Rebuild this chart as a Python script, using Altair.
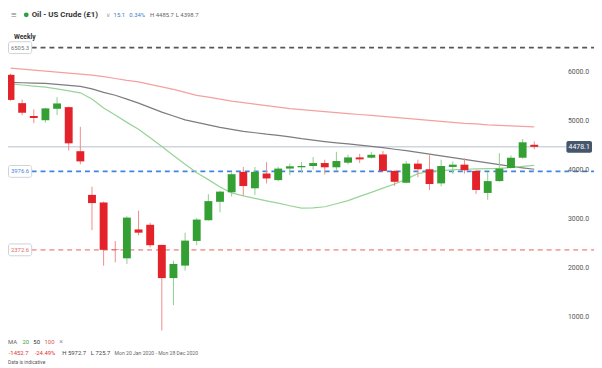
import altair as alt
import numpy as np
import pandas as pd

# ---------------- data ----------------
OPEN = [5950, 5371, 5109, 5022, 5256, 5290, 4389, 3496, 3341, 2380, 2200, 2790, 2885, 2474,
        1796, 2051, 2555, 2978, 3355, 3550, 3966, 3631, 3933, 3798, 4034, 4060, 4087, 4147,
        4060, 4154, 4262, 4256, 4323, 3986, 3744, 4135, 4020, 3731, 4067, 4114, 3986, 3536,
        3778, 4047, 4256, 4520]
HIGH = [5972.7, 5445, 5244, 5276, 5492, 5300, 4887, 3663, 3360, 2555, 3059, 3173, 2925, 2480,
        2151, 2723, 3026, 3510, 3583, 3953, 4067, 4067, 4167, 4070, 4135, 4167, 4268, 4215,
        4376, 4316, 4336, 4376, 4396, 3995, 4188, 4215, 4309, 4215, 4175, 4242, 3995, 3966,
        4349, 4302, 4639, 4591]
LOW = [5420, 5123, 4962, 4974, 5129, 4403, 4121, 2776, 2050, 2119, 2085, 2670, 2421, 725.7,
       1244, 1950, 2468, 2970, 3139, 3462, 3476, 3496, 3731, 3780, 3899, 3953, 4013, 3913,
       3986, 4121, 4147, 4240, 3980, 3677, 3731, 3859, 3597, 3671, 3926, 3933, 3516, 3395,
       3764, 4034, 4235, 4430]
CLOSE = [5437, 5175, 5068, 5264, 5365, 4550, 4181, 3329, 2373, 2372, 3032, 2724, 2468, 1796,
         2085, 2562, 2992, 3369, 3563, 3919, 3677, 3966, 3832, 4034, 4081, 4087, 4147, 4060,
         4188, 4262, 4222, 4316, 3986, 3764, 4135, 4020, 3718, 4087, 4114, 4000, 3597, 3778,
         4034, 4256, 4571, 4478.1]

MA20 = [5764, 5742, 5720, 5697, 5663, 5623, 5583, 5458, 5270, 5129, 4978, 4837, 4665, 4484,
        4302, 4121, 3950, 3808, 3657, 3536, 3476, 3425, 3375, 3329, 3274, 3224, 3230, 3254,
        3315, 3379, 3466, 3546, 3633, 3718, 3819, 3929, 3974, 3990, 4008, 4020, 4028, 4034,
        4040, 4056, 4081, 4101]
MA50 = [5794, 5788, 5782, 5774, 5754, 5734, 5714, 5663, 5593, 5532, 5452, 5371, 5280, 5189,
        5109, 5028, 4978, 4927, 4877, 4837, 4796, 4766, 4736, 4712, 4681, 4645, 4615, 4585,
        4560, 4538, 4512, 4488, 4460, 4429, 4399, 4367, 4329, 4292, 4258, 4222, 4185, 4149,
        4113, 4081, 4050, 4020]
MA100 = [6087, 6066, 6046, 6026, 6006, 5986, 5966, 5945, 5915, 5875, 5835, 5804, 5754, 5704,
         5653, 5593, 5532, 5492, 5452, 5411, 5381, 5351, 5320, 5290, 5260, 5240, 5220, 5200,
         5179, 5159, 5139, 5119, 5099, 5079, 5058, 5038, 5018, 4998, 4978, 4958, 4948, 4927,
         4917, 4907, 4897, 4887]

LEVELS = [6505.3, 3976.6, 2372.6]
LAST_PRICE = [4478.1]
Y_TICKS = [1000, 2000, 3000, 4000, 5000, 6000]

TITLE = "Oil - US Crude (£1)"
HEADER_VALUES = ["15.1", "0.34%", "H 4485.7", "L 4398.7"]
PERIOD = "Weekly"
MA_LABELS = ["MA", "20", "50", "100", "×"]
SUMMARY = ["-1452.7", "-24.49%", "H 5972.7", "L 725.7", "Mon 20 Jan 2020 - Mon 28 Dec 2020"]
NOTE = "Data is indicative"

# ---------------- tables ----------------
n = len(OPEN)
candles = pd.DataFrame({"i": np.arange(n), "open": OPEN, "high": HIGH, "low": LOW, "close": CLOSE})
ma = pd.concat([
    pd.DataFrame({"i": np.arange(n), "v": MA100, "ma": "MA100"}),
    pd.DataFrame({"i": np.arange(n), "v": MA50, "ma": "MA50"}),
    pd.DataFrame({"i": np.arange(n), "v": MA20, "ma": "MA20"}),
])
last = pd.DataFrame({"v": LAST_PRICE})
ticks = pd.DataFrame({"v": Y_TICKS})
one = pd.DataFrame({"a": [0]})

W, H = 594, 360
FONT = "Roboto"
GREEN = "#34a034"
RED = "#e3222a"

xs = alt.Scale(domain=[0.2083, 49.7083], nice=False, zero=False)
ys = alt.Scale(domain=[8, 7266], nice=False, zero=False)
X = alt.X("i:Q", scale=xs, axis=None)


def Y(field):
    return alt.Y(f"{field}:Q", scale=ys, axis=None, title=None)


up = alt.datum.close >= alt.datum.open

LEVEL_LINE_COLORS = ["#55575c", "#3f86dc", "#f4a3a3"]
LEVEL_TEXT_COLORS = ["#777777", "#3f86dc", "#e06a6a"]

level_lines, level_marks = [], []
for k, lv in enumerate(LEVELS):
    d = pd.DataFrame({"v": [lv]})
    level_lines.append(alt.Chart(d).mark_rule(strokeDash=[5, 4], strokeWidth=1.6,
                                              stroke=LEVEL_LINE_COLORS[k]).encode(
        y=Y("v"), x=alt.value(24), x2=alt.value(W)))
    level_marks.append(alt.Chart(d).mark_rect(yOffset=-6, y2Offset=6, cornerRadius=2, fill="white",
                                              stroke="#cdd2d8", strokeWidth=1).encode(
        y=Y("v"), y2=alt.Y2("v:Q"), x=alt.value(0.5), x2=alt.value(24)))
    level_marks.append(alt.Chart(d).mark_text(font=FONT, fontSize=6, align="center", baseline="middle",
                                              fill=LEVEL_TEXT_COLORS[k]).encode(
        y=Y("v"), x=alt.value(12.2), text=alt.Text("v:Q", format=".1f")))

price_line = alt.Chart(last).mark_rule(color="#cfd6e0", strokeWidth=1.5).encode(
    y=Y("v"), x=alt.value(0), x2=alt.value(566),
)
ma_lines = alt.Chart(ma).mark_line(strokeWidth=1.25).encode(
    x=X, y=Y("v"), detail="ma:N",
    color=alt.Color("ma:N", scale=alt.Scale(domain=["MA20", "MA50", "MA100"],
                                            range=["#98d498", "#7d7d80", "#f5a0a0"]), legend=None),
)
wicks = alt.Chart(candles).mark_rule(strokeWidth=1).encode(
    x=X, y=Y("low"), y2=alt.Y2("high:Q"),
    color=alt.condition(up, alt.value("#8fcc8f"), alt.value("#f08a8a")),
)
bodies = alt.Chart(candles).mark_bar(size=8, minBandSize=1).encode(
    x=X, y=Y("open"), y2=alt.Y2("close:Q"),
    color=alt.condition(up, alt.value(GREEN), alt.value(RED)),
)
badge = alt.Chart(last).mark_rect(yOffset=-6, y2Offset=6, cornerRadius=2, fill="#46566d").encode(
    y=Y("v"), y2=alt.Y2("v:Q"), x=alt.value(566), x2=alt.value(592),
)
badge_text = alt.Chart(last).mark_text(font=FONT, fontSize=7, color="white", align="center",
                                       baseline="middle").encode(
    y=Y("v"), x=alt.value(579), text=alt.Text("v:Q", format=".1f"),
)
tick_text = alt.Chart(ticks).mark_text(font=FONT, fontSize=7, color="#555555", align="right",
                                       baseline="middle").encode(
    y=Y("v"), x=alt.value(589), text=alt.Text("v:Q", format=".1f"),
)


def label(text, x, y, color="#333333", size=7.0, weight="normal", align="left"):
    return alt.Chart(one).mark_text(font=FONT, fontSize=size, color=color, fontWeight=weight,
                                    align=align, baseline="middle").encode(
        x=alt.value(x), y=alt.value(y), text=alt.value(text))


dot = alt.Chart(one).mark_point(filled=True, size=24, color="#2ea043", opacity=1).encode(
    x=alt.value(18.5), y=alt.value(4.5))

annotations = [
    label("≡", 3, 4.5, "#777777", 10),
    dot,
    label(TITLE, 24, 4.5, "#333333", 8, "bold"),
    label("∨", 99, 4.5, "#999999", 6),
    label(HEADER_VALUES[0], 107, 4.5, "#3b7fc4", 6),
    label(HEADER_VALUES[1], 123, 4.5, "#3b7fc4", 6),
    label(HEADER_VALUES[2], 144, 4.5, "#666666", 6),
    label(HEADER_VALUES[3], 170, 4.5, "#666666", 6),
    label(PERIOD, 6, 27, "#333333", 6.8, "bold"),
    label(MA_LABELS[0], 0, 336, "#666666", 6),
    label(MA_LABELS[1], 14.7, 336, "#3fa33f", 6),
    label(MA_LABELS[2], 25.7, 336, "#333333", 6),
    label(MA_LABELS[3], 37, 336, "#e05555", 6),
    label(MA_LABELS[4], 52, 336, "#888888", 7),
    label(SUMMARY[0], 0.7, 347, "#e03030", 6),
    label(SUMMARY[1], 27, 347, "#e03030", 6),
    label(SUMMARY[2], 55, 347, "#444444", 6),
    label(SUMMARY[3], 84, 347, "#444444", 6),
    label(SUMMARY[4], 108, 347, "#666666", 5.2),
    label(NOTE, 0, 356, "#555555", 5),
]

chart = alt.layer(
    *level_lines, price_line, ma_lines, wicks, bodies, *level_marks,
    badge, badge_text, tick_text, *annotations,
).resolve_scale(color="independent").properties(
    width=W, height=H, autosize=alt.AutoSizeParams(type="none"), padding=0, background="white",
).configure_view(stroke=None)

chart.save("out.html", embed_options={"renderer": "svg", "actions": False})
